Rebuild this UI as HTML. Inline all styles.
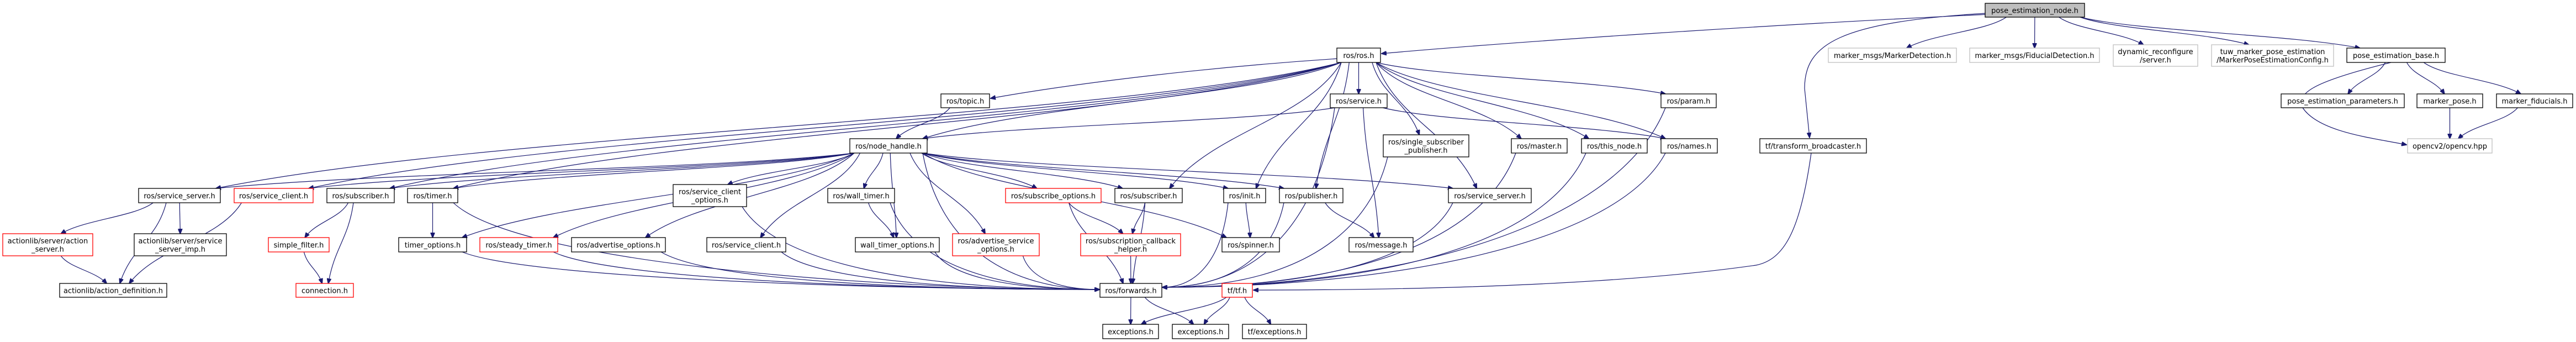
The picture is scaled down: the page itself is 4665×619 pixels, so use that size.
<!DOCTYPE html>
<html><head><meta charset="utf-8">
<style>
html,body{margin:0;padding:0;background:#fff;}
svg{display:block;}
text{font-family:"DejaVu Sans","Liberation Sans",sans-serif;font-size:13px;fill:#000;}
</style></head>
<body>
<svg id="g" xmlns="http://www.w3.org/2000/svg" width="4665" height="619" viewBox="0 0 4665 619">
<defs>
<marker id="ar" markerWidth="10" markerHeight="8" refX="9" refY="4" orient="auto" markerUnits="userSpaceOnUse">
<path d="M0,0 L10,4 L0,8 z" fill="#191970" stroke="#191970"/>
</marker>
</defs>
<g id="edges" fill="none" stroke="#191970" stroke-width="1.2"></g>
<g id="nodes"></g>
</svg>
<script>
var N={
pen:[3595,6,3775,31,["pose_estimation_node.h"],"f"],
rosh:[2421,87,2500,113,["ros/ros.h"],"b"],
mdet:[3311,87,3543,113,["marker_msgs/MarkerDetection.h"],"g"],
fdet:[3567,87,3802,113,["marker_msgs/FiducialDetection.h"],"g"],
dyn:[3827,81,3980,120,["dynamic_reconfigure","/server.h"],"g"],
tuw:[4005,81,4226,120,["tuw_marker_pose_estimation","/MarkerPoseEstimationConfig.h"],"g"],
peb:[4250,87,4428,113,["pose_estimation_base.h"],"b"],
topic:[1704,170,1792,195,["ros/topic.h"],"b"],
service:[2409,170,2512,195,["ros/service.h"],"b"],
param:[3008,170,3108,195,["ros/param.h"],"b"],
pep:[4131,170,4354,195,["pose_estimation_parameters.h"],"b"],
mpose:[4377,170,4496,195,["marker_pose.h"],"b"],
mfid:[4521,170,4659,195,["marker_fiducials.h"],"b"],
nh:[1539,251,1679,277,["ros/node_handle.h"],"b"],
ssp:[2505,244,2660,284,["ros/single_subscriber","_publisher.h"],"b"],
master:[2737,251,2838,277,["ros/master.h"],"b"],
thisnode:[2864,251,2983,277,["ros/this_node.h"],"b"],
names:[3008,251,3110,277,["ros/names.h"],"b"],
tfb:[3187,251,3380,277,["tf/transform_broadcaster.h"],"b"],
opencv:[4360,251,4513,277,["opencv2/opencv.hpp"],"g"],
ssL:[251,341,399,367,["ros/service_server.h"],"b"],
scL:[424,341,567,367,["ros/service_client.h"],"r"],
subL:[592,341,714,367,["ros/subscriber.h"],"b"],
timer:[738,341,829,367,["ros/timer.h"],"b"],
sco:[1219,334,1352,374,["ros/service_client","_options.h"],"b"],
wtimer:[1499,341,1620,367,["ros/wall_timer.h"],"b"],
subo:[1821,341,1994,367,["ros/subscribe_options.h"],"r"],
sub:[2019,341,2141,367,["ros/subscriber.h"],"b"],
init:[2216,341,2292,367,["ros/init.h"],"b"],
pub:[2317,341,2432,367,["ros/publisher.h"],"b"],
ssR:[2623,341,2773,367,["ros/service_server.h"],"b"],
as:[5,423,168,463,["actionlib/server/action","_server.h"],"r"],
ssi:[243,423,410,463,["actionlib/server/service","_server_imp.h"],"b"],
sf:[486,430,596,456,["simple_filter.h"],"r"],
to:[722,430,845,456,["timer_options.h"],"b"],
st:[869,430,1010,456,["ros/steady_timer.h"],"r"],
ao:[1035,430,1205,456,["ros/advertise_options.h"],"b"],
sc:[1280,430,1423,456,["ros/service_client.h"],"b"],
wto:[1549,430,1701,456,["wall_timer_options.h"],"b"],
aso:[1725,423,1882,463,["ros/advertise_service","_options.h"],"r"],
sch:[1957,423,2138,463,["ros/subscription_callback","_helper.h"],"r"],
spin:[2213,430,2317,456,["ros/spinner.h"],"b"],
msg:[2443,430,2559,456,["ros/message.h"],"b"],
ad:[108,513,302,538,["actionlib/action_definition.h"],"b"],
conn:[536,513,640,538,["connection.h"],"r"],
fwd:[1992,513,2104,538,["ros/forwards.h"],"b"],
tf:[2213,513,2268,538,["tf/tf.h"],"r"],
ex1:[1997,587,2098,613,["exceptions.h"],"b"],
ex2:[2123,587,2225,613,["exceptions.h"],"b"],
tfex:[2250,587,2366,613,["tf/exceptions.h"],"b"]
};
var E=[
"pen mdet","pen fdet","pen dyn","pen tuw","pen peb",
"peb pep","peb mpose","peb mfid","mpose opencv","mfid opencv",
"rosh ssL","rosh subL","rosh nh","rosh service","rosh ssp","rosh master","rosh thisnode","rosh names","rosh param","rosh sub","rosh init","rosh pub","rosh ssR","rosh timer","rosh scL",
"topic nh","service nh","service names","service msg","service fwd",
"nh ssL","nh scL","nh subL","nh timer","nh to","nh st","nh ao","nh sco","nh sc","nh wtimer","nh wto","nh aso","nh subo","nh sub","nh init","nh pub","nh spin","nh ssR","nh fwd",
"ssL as","ssL ssi","ssL ad","as ad","scL ad","subL sf","subL conn","sf conn",
"timer to","timer fwd","to fwd","st fwd","ao fwd","sco fwd","sc fwd","wtimer wto","wtimer fwd","wto fwd","aso fwd",
"subo fwd","subo sch","sub sch","sub fwd","sch fwd","init spin","init fwd","pub msg","pub fwd","ssR fwd","ssp fwd","master fwd","thisnode fwd","names fwd","param fwd",
"fwd ex1","fwd ex2","tf ex1","tf ex2","tf tfex"
];
var NS="http://www.w3.org/2000/svg";
var eg=document.getElementById("edges"),ng=document.getElementById("nodes");
function P(d){var p=document.createElementNS(NS,"path");p.setAttribute("d",d);p.setAttribute("marker-end","url(#ar)");eg.appendChild(p);}
function cl(v,a,b){return Math.max(a,Math.min(b,v));}
E.forEach(function(s){
 var a=s.split(" "),S=N[a[0]],T=N[a[1]];
 var scx=(S[0]+S[2])/2,tcx=(T[0]+T[2])/2;
 var sx=cl(scx+(tcx-scx)*0.2,S[0]+8,S[2]-8),sy=S[3];
 if(a[1]=="fwd" && (scx<1890||scx>2210)){
  var left=scx<1890, tx=left?T[0]-1:T[2]+1, ty=left?524:520;
  var dy=ty-sy, dx=Math.abs(tx-sx);
  P("M"+sx+","+sy+" C"+(sx+(tx-sx)*0.1)+","+(sy+dy*0.7)+" "+(left?tx-Math.min(400,dx*0.5):tx+Math.min(400,dx*0.5))+","+ty+" "+tx+","+ty);
  return;
 }
 var tx=cl(tcx+(scx-tcx)*0.1,T[0]+8,T[2]-8),ty=T[1];
 var dy=ty-sy;
 P("M"+sx+","+sy+" C"+(sx+(tx-sx)*0.2)+","+(sy+dy*0.45)+" "+(tx+(sx-tx)*0.25)+","+(ty-dy*0.45)+" "+tx+","+ty);
});
P("M3600,26 C3200,45 2750,75 2502,97");
P("M2440,105 C2200,120 1950,150 1794,178");
P("M3597,24 C3330,40 3268,80 3268,160 L3277,249");
P("M3280,277 C3260,420 3230,470 3180,480 C2900,520 2500,525 2270,525");
P("M4330,113 C4180,150 4160,170 4170,195 C4200,240 4300,250 4358,262");
for(var k in N){var n=N[k];
 var r=document.createElementNS(NS,"rect");
 r.setAttribute("x",n[0]);r.setAttribute("y",n[1]);r.setAttribute("width",n[2]-n[0]);r.setAttribute("height",n[3]-n[1]);
 var st=n[5];
 r.setAttribute("fill",st=="f"?"#bfbfbf":"#fff");
 r.setAttribute("stroke",st=="r"?"#ff0000":st=="g"?"#bfbfbf":"#000");
 r.setAttribute("stroke-width","1.3");
 ng.appendChild(r);
 var L=n[4],cy=(n[1]+n[3])/2,h=15;
 L.forEach(function(t,i){
  var e=document.createElementNS(NS,"text");
  var y=cy+(i-(L.length-1)/2)*h+5;
  e.setAttribute("x",(n[0]+n[2])/2);e.setAttribute("y",y);e.setAttribute("text-anchor","middle");
  e.textContent=t;ng.appendChild(e);
 });
}
</script>
</body></html>
